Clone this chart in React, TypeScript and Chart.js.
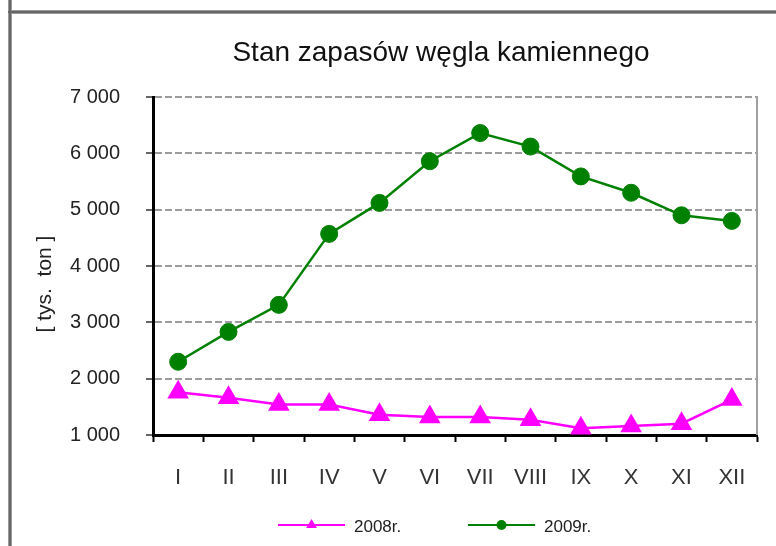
import React, { useEffect, useRef } from 'react';
import { Chart, registerables } from 'chart.js';

Chart.register(...registerables);

const chartTitle = 'Stan zapasów węgla kamiennego';
const yAxisTitle = '[ tys.  ton ]';
const months = ['I', 'II', 'III', 'IV', 'V', 'VI', 'VII', 'VIII', 'IX', 'X', 'XI', 'XII'];
const seriesLabels = ['2008r.', '2009r.'];
const stocks2008 = [1760, 1660, 1540, 1540, 1360, 1320, 1320, 1270, 1120, 1160, 1200, 1630];
const stocks2009 = [2300, 2830, 3310, 4570, 5120, 5860, 6360, 6120, 5590, 5300, 4900, 4800];
const yMin = 1000;
const yMax = 7000;
const yStep = 1000;

const FONT = '"Liberation Sans", Arial, sans-serif';

const fmt = (v: number) => {
  const th = Math.floor(v / 1000);
  const rest = String(v % 1000).padStart(3, '0');
  return th > 0 ? `${th} ${rest}` : String(v);
};

const decorPlugin = {
  id: 'decor',
  beforeDraw(chart: any) {
    const ctx = chart.ctx;
    ctx.save();
    ctx.fillStyle = '#9a9a9a';
    ctx.fillRect(8, 0, 4, 546);
    ctx.fillRect(8, 10, 768, 4);
    ctx.fillStyle = '#666';
    ctx.fillRect(9, 0, 2, 546);
    ctx.fillRect(8, 11, 768, 2);
    ctx.restore();
  },
  beforeDatasetsDraw(chart: any) {
    const { ctx, chartArea } = chart;
    ctx.save();
    ctx.strokeStyle = '#a0a0a0';
    ctx.lineWidth = 2;
    ctx.beginPath();
    ctx.moveTo(chartArea.right, chartArea.top - 1);
    ctx.lineTo(chartArea.right, chartArea.bottom);
    ctx.stroke();
    ctx.restore();
  },
  afterDraw(chart: any) {
    const ctx = chart.ctx;
    ctx.save();
    // title
    ctx.fillStyle = '#111';
    ctx.font = `28px ${FONT}`;
    ctx.textAlign = 'center';
    ctx.textBaseline = 'alphabetic';
    ctx.fillText(chartTitle, 441, 61);
    // y axis title
    ctx.save();
    ctx.translate(45, 284);
    ctx.rotate(-Math.PI / 2);
    ctx.font = `21px ${FONT}`;
    ctx.fillStyle = '#222';
    ctx.textAlign = 'center';
    ctx.textBaseline = 'middle';
    ctx.fillText(yAxisTitle, 0, 0);
    ctx.restore();
    // legend
    const lineStarts = [278, 468];
    const lineLen = 67;
    const ly = 525;
    chart.data.datasets.forEach((ds: any, i: number) => {
      const x0 = lineStarts[i];
      ctx.strokeStyle = ds.borderColor;
      ctx.lineWidth = 2;
      ctx.beginPath();
      ctx.moveTo(x0, ly);
      ctx.lineTo(x0 + lineLen, ly);
      ctx.stroke();
      ctx.fillStyle = ds.backgroundColor;
      const cx = x0 + lineLen / 2;
      ctx.beginPath();
      if (ds.pointStyle === 'triangle') {
        const r = 6;
        ctx.moveTo(cx, ly - r);
        ctx.lineTo(cx + r * 0.9, ly + r * 0.5);
        ctx.lineTo(cx - r * 0.9, ly + r * 0.5);
        ctx.closePath();
      } else {
        ctx.arc(cx, ly, 5, 0, Math.PI * 2);
      }
      ctx.fill();
      ctx.fillStyle = '#222';
      ctx.font = `17px ${FONT}`;
      ctx.textAlign = 'left';
      ctx.textBaseline = 'middle';
      ctx.fillText(ds.label, x0 + lineLen + 9, ly + 2);
    });
    ctx.restore();
  },
};

export default function App() {
  const ref = useRef<HTMLCanvasElement | null>(null);

  useEffect(() => {
    if (!ref.current) return;
    const chart = new Chart(ref.current, {
      type: 'line',
      data: {
        labels: months,
        datasets: [
          {
            label: seriesLabels[0],
            data: stocks2008,
            borderColor: '#FF00FF',
            backgroundColor: '#FF00FF',
            borderWidth: 2.5,
            pointStyle: 'triangle',
            pointRadius: 12.5,
            pointBorderWidth: 0,
            tension: 0,
          },
          {
            label: seriesLabels[1],
            data: stocks2009,
            borderColor: '#008000',
            backgroundColor: '#008000',
            borderWidth: 2.5,
            pointStyle: 'circle',
            pointRadius: 8.5,
            pointBorderWidth: 1,
            tension: 0,
          },
        ],
      },
      plugins: [decorPlugin],
      options: {
        animation: false,
        responsive: false,
        maintainAspectRatio: false,
        devicePixelRatio: 1,
        layout: { padding: { left: 0, top: 97, right: 19, bottom: 0 } },
        plugins: {
          legend: { display: false },
          title: { display: false },
          tooltip: { enabled: false },
        },
        scales: {
          x: {
            offset: true,
            grid: {
              drawOnChartArea: false,
              drawTicks: true,
              tickLength: 7,
              tickColor: '#000',
              tickWidth: 2,
              offset: true,
            },
            border: { display: true, color: '#000', width: 3 },
            ticks: {
              color: '#333',
              font: { family: FONT, size: 22 },
              padding: 23,
              maxRotation: 0,
              autoSkip: false,
            },
            afterFit: (s: any) => {
              s.height = 111;
            },
          },
          y: {
            min: yMin,
            max: yMax,
            grid: {
              color: '#9c9c9c',
              lineWidth: 2,
              drawTicks: true,
              tickLength: 7,
              tickColor: '#666',
              tickWidth: 2,
              tickBorderDash: [],
            },
            border: { display: true, color: '#000', width: 3, dash: [7, 3] },
            ticks: {
              stepSize: yStep,
              color: '#222',
              font: { family: FONT, size: 20 },
              padding: 26,
              callback: (v: any) => fmt(Number(v)),
            },
            afterFit: (s: any) => {
              s.width = 153;
            },
          },
        },
      },
    });
    return () => chart.destroy();
  }, []);

  return (
    <div style={{ position: 'absolute', left: 0, top: 0, width: 776, height: 546, background: '#fff' }}>
      <canvas ref={ref} width={776} height={546} style={{ display: 'block', width: 776, height: 546 }} />
    </div>
  );
}
